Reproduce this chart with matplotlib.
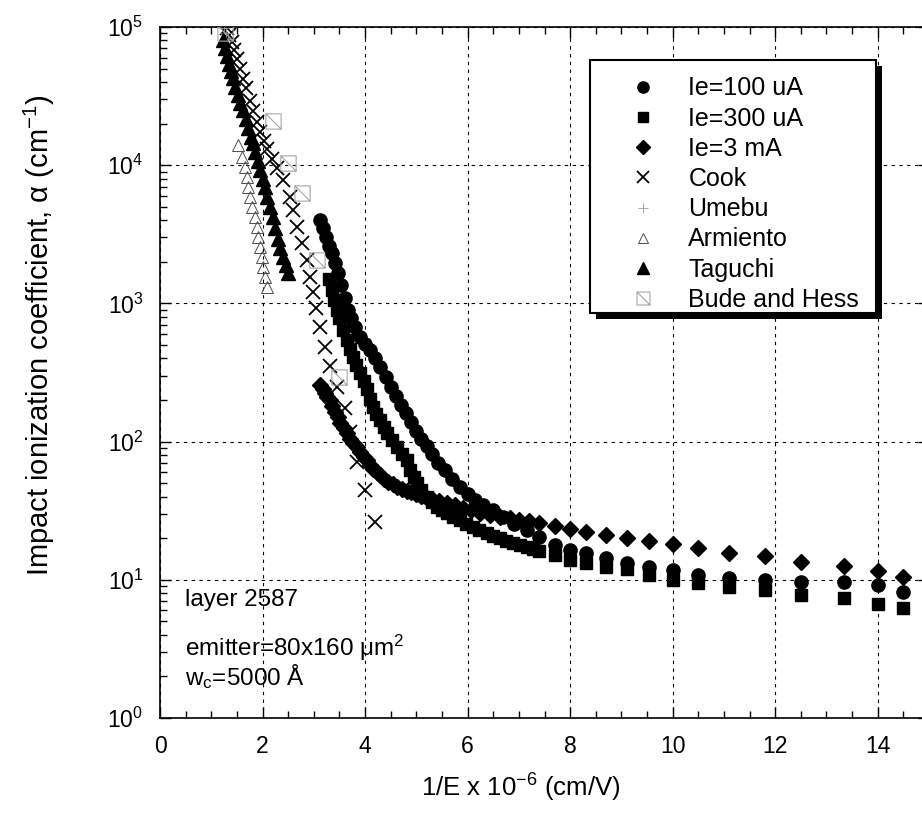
import math
import matplotlib
matplotlib.use("Agg")
import matplotlib.pyplot as plt
from matplotlib.path import Path
from matplotlib.patches import Rectangle
from matplotlib.transforms import IdentityTransform
from matplotlib.ticker import FixedLocator, MultipleLocator, LogLocator, NullFormatter, FuncFormatter

plt.rcParams['font.family'] = ['Liberation Sans', 'DejaVu Sans']
plt.rcParams['mathtext.fontset'] = 'custom'
plt.rcParams['mathtext.rm'] = 'Liberation Sans'
plt.rcParams['mathtext.it'] = 'Liberation Sans:italic'

# measured alpha vs 1/E for three emitter currents
x_100uA = [3.12, 3.18, 3.24, 3.30, 3.36, 3.42, 3.48, 3.54, 3.60, 3.66, 3.72, 3.80, 3.90,
           4.00, 4.10, 4.20, 4.30, 4.40, 4.50, 4.60, 4.70, 4.80, 4.90, 5.00, 5.10, 5.20,
           5.30, 5.42, 5.55, 5.70, 5.85, 6.00, 6.15, 6.30, 6.50, 6.70, 6.90, 7.15, 7.40,
           7.70, 8.00, 8.30, 8.70, 9.10, 9.53, 10.0, 10.5, 11.1, 11.8, 12.5, 13.35, 14.0, 14.5]
a_100uA = [4000, 3500, 3000, 2600, 2300, 1950, 1650, 1350, 1100, 900, 780, 670, 570,
           510, 460, 400, 345, 295, 250, 215, 185, 160, 138, 120, 104, 93,
           82, 70, 62, 54, 47, 42, 38, 35, 32, 28.5, 25.5, 23, 20.5,
           18, 16.5, 15.5, 14.3, 13.2, 12.3, 11.7, 10.8, 10.3, 10.0, 9.6, 9.6, 9.1, 8.2]

x_300uA = [3.30, 3.35, 3.40, 3.45, 3.50, 3.57, 3.64, 3.70, 3.76, 3.83, 3.90, 3.97, 4.03,
           4.09, 4.15, 4.22, 4.29, 4.36, 4.42, 4.52, 4.62, 4.72, 4.81, 4.88, 4.95, 5.02,
           5.10, 5.20, 5.30, 5.40, 5.50, 5.60, 5.72, 5.85, 5.97, 6.10, 6.23, 6.37, 6.50,
           6.63, 6.75, 6.88, 7.02, 7.15, 7.28, 7.40, 7.70, 8.00, 8.30, 8.70, 9.10, 9.53,
           10.0, 10.5, 11.1, 11.8, 12.5, 13.35, 14.0, 14.5]
a_300uA = [1500, 1250, 1050, 900, 780, 640, 540, 470, 410, 360, 315, 275, 240,
           205, 178, 158, 143, 128, 115, 102, 91, 81, 73, 62, 55, 50,
           45, 40, 36.5, 33.5, 32, 30.5, 28.5, 27, 25.5, 24, 22.8, 21.7, 20.8,
           20, 19.2, 18.4, 17.8, 17.2, 16.7, 16.2, 15.1, 14.0, 13.2, 12.4, 12.0, 10.8,
           10.0, 9.5, 8.9, 8.4, 7.8, 7.4, 6.7, 6.3]

x_3mA = [3.12, 3.17, 3.22, 3.26, 3.31, 3.36, 3.41, 3.47, 3.52, 3.58, 3.64, 3.70, 3.77,
         3.84, 3.90, 3.97, 4.03, 4.10, 4.16, 4.23, 4.29, 4.36, 4.45, 4.54, 4.63, 4.72,
         4.81, 4.90, 5.00, 5.10, 5.20, 5.32, 5.45, 5.59, 5.75, 5.91, 6.07, 6.24, 6.43,
         6.63, 6.82, 7.00, 7.20, 7.40, 7.70, 8.00, 8.30, 8.70, 9.10, 9.53, 10.0, 10.5,
         11.1, 11.8, 12.5, 13.35, 14.0, 14.5]
a_3mA = [257, 240, 225, 212, 200, 182, 165, 150, 137, 125, 115, 105, 98,
         91, 84, 78, 73, 68, 63, 60, 57, 54, 51, 49, 47, 45.5,
         44, 43, 41.5, 40.5, 39, 38, 37, 36, 34.5, 33, 31.8, 30.5, 29.5,
         28.5, 27.8, 27.2, 26.5, 25.8, 24.4, 23.3, 22.2, 21.2, 20, 19.1, 18.2, 16.9,
         15.6, 14.8, 13.5, 12.6, 11.6, 10.5]

# published coefficients
x_cook = [1.30, 1.35, 1.40, 1.45, 1.50, 1.56, 1.62, 1.68, 1.75, 1.82, 1.89, 1.95, 2.02,
          2.09, 2.18, 2.28, 2.40, 2.53, 2.60, 2.67, 2.77, 2.87, 2.93, 2.98, 3.04, 3.12,
          3.22, 3.31, 3.45, 3.60, 3.70, 3.84, 4.00, 4.19]
a_cook = [98000, 88000, 78000, 68000, 59000, 50000, 42000, 36000, 29000, 24500, 20500,
          17500, 15000, 13000, 11000, 9600, 7800, 5900, 4750, 3600, 2750, 2050, 1550,
          1200, 930, 670, 480, 350, 250, 175, 117, 71, 44.6, 26]

x_umebu = [1.24, 1.28, 1.32]
a_umebu = [98000, 90000, 82000]

x_armiento = [1.52, 1.60, 1.66, 1.70, 1.72, 1.75, 1.79, 1.85, 1.89, 1.91, 1.95, 1.99,
              2.01, 2.05, 2.09]
a_armiento = [14000, 11500, 9700, 8200, 6900, 5860, 4970, 4220, 3570, 3030, 2570, 2180,
              1840, 1560, 1320]

x_taguchi = [1.22, 1.26, 1.30, 1.34, 1.38, 1.42, 1.47, 1.52, 1.57, 1.62, 1.67, 1.72,
             1.77, 1.81, 1.86, 1.91, 1.95, 2.00, 2.04, 2.08, 2.14, 2.20, 2.25, 2.30,
             2.35, 2.40, 2.45, 2.50]
a_taguchi = [80000, 70000, 62000, 54000, 48000, 43000, 37000, 32000, 28000, 25000,
             21500, 18500, 16000, 14500, 12500, 10800, 9300, 8000, 6900, 5900, 5000,
             4200, 3500, 2900, 2500, 2150, 1900, 1660]

x_bude = [1.27, 2.20, 2.50, 2.77, 3.06, 3.50]
a_bude = [90000, 21000, 10400, 6300, 2050, 295]

x_ticks = [0, 2, 4, 6, 8, 10, 12, 14]

# square with one diagonal, used for the Bude and Hess points
bude_marker = Path([(-1, 1), (1, 1), (1, -1), (-1, -1), (-1, 1), (1, -1)],
                   [Path.MOVETO, Path.LINETO, Path.LINETO, Path.LINETO, Path.LINETO, Path.LINETO])

fig = plt.figure(figsize=(9.22, 8.14), dpi=100)
ax = fig.add_axes([160 / 922, 96 / 814, 769 / 922, 691 / 814])

ax.plot(x_100uA, a_100uA, 'o', color='black', ms=9.5, label='Ie=100 uA', zorder=4)
ax.plot(x_300uA, a_300uA, 's', color='black', ms=9, label='Ie=300 uA', zorder=4)
ax.plot(x_3mA, a_3mA, 'D', color='black', ms=8.5, label='Ie=3 mA', zorder=4)
ax.plot(x_cook, a_cook, 'x', color='black', ms=10, mew=1.3, label='Cook', zorder=3)
ax.plot(x_umebu, a_umebu, '+', color='0.6', ms=8, mew=0.6, label='Umebu', zorder=3)
ax.plot(x_armiento, a_armiento, '^', mfc='none', mec='0.3', ms=9, mew=0.7,
        label='Armiento', zorder=3)
ax.plot(x_taguchi, a_taguchi, '^', color='black', ms=9.5, label='Taguchi', zorder=3)
ax.plot(x_bude, a_bude, ls='none', marker=bude_marker, mfc='none', mec='0.65', ms=11,
        mew=0.8, label='Bude and Hess', zorder=3)

ax.set_yscale('log')
ax.set_xlim(0, 15)
ax.set_ylim(1, 1e5)

ax.xaxis.set_major_locator(FixedLocator(x_ticks))
ax.xaxis.set_minor_locator(MultipleLocator(0.5))
ax.yaxis.set_major_locator(LogLocator(base=10, numticks=10))
ax.yaxis.set_minor_locator(LogLocator(base=10, subs=range(2, 10), numticks=10))
ax.yaxis.set_minor_formatter(NullFormatter())
ax.yaxis.set_major_formatter(FuncFormatter(lambda v, p: r'$\mathregular{10^{%d}}$' % round(math.log10(v))))

ax.tick_params(which='both', direction='in', top=True, right=True, labelsize=16.5, width=1)
ax.tick_params(which='major', length=8, pad=12)
ax.tick_params(which='minor', length=5)
ax.grid(True, which='major', color='black', ls=(0, (3, 4)), lw=0.8)
for s in ax.spines.values():
    s.set_linewidth(1.2)

ax.set_xlabel(r'1/E x 10$^{\mathregular{-6}}$ (cm/V)', fontsize=18.5)
ax.set_ylabel(r'Impact ionization coefficient, α (cm$^{\mathregular{-1}}$)', fontsize=21)
ax.xaxis.set_label_coords((521 - 160) / 769, (718 - 772) / 691)
ax.yaxis.set_label_coords((57 - 160) / 769, (718 - 335) / 691)

ax.text(185 / 922, 1 - 600 / 814, 'layer 2587', transform=fig.transFigure,
        fontsize=17.5, va='center', ha='left')
ax.text(185 / 922, 1 - 648 / 814, r'emitter=80x160 μm$^{\mathregular{2}}$',
        transform=fig.transFigure, fontsize=17.5, va='center', ha='left')
ax.text(185 / 922, 1 - 677 / 814, r'w$_{\mathregular{c}}$=5000 Å',
        transform=fig.transFigure, fontsize=17.5, va='center', ha='left')

leg = ax.legend(loc='upper left', bbox_to_anchor=(590 / 922, 1 - 60 / 814),
                bbox_transform=fig.transFigure, borderaxespad=0, fontsize=18,
                numpoints=1, markerscale=0.85, handlelength=2.96, handletextpad=0.32,
                labelspacing=0.25, borderpad=0.65, frameon=False)
leg.set_zorder(6)

# legend box with a solid drop shadow, in pixels
box_x0, box_y0, box_x1, box_y1 = 590, 60, 876, 313
H = 814
ax.add_patch(Rectangle((box_x0 + 6, H - box_y1 - 6), box_x1 - box_x0, box_y1 - box_y0,
                       facecolor='black', edgecolor='none', transform=IdentityTransform(),
                       clip_on=False, zorder=5.4))
ax.add_patch(Rectangle((box_x0, H - box_y1), box_x1 - box_x0, box_y1 - box_y0,
                       facecolor='white', edgecolor='black', lw=1.5,
                       transform=IdentityTransform(), clip_on=False, zorder=5.5))

fig.savefig('out.png', dpi=100)
